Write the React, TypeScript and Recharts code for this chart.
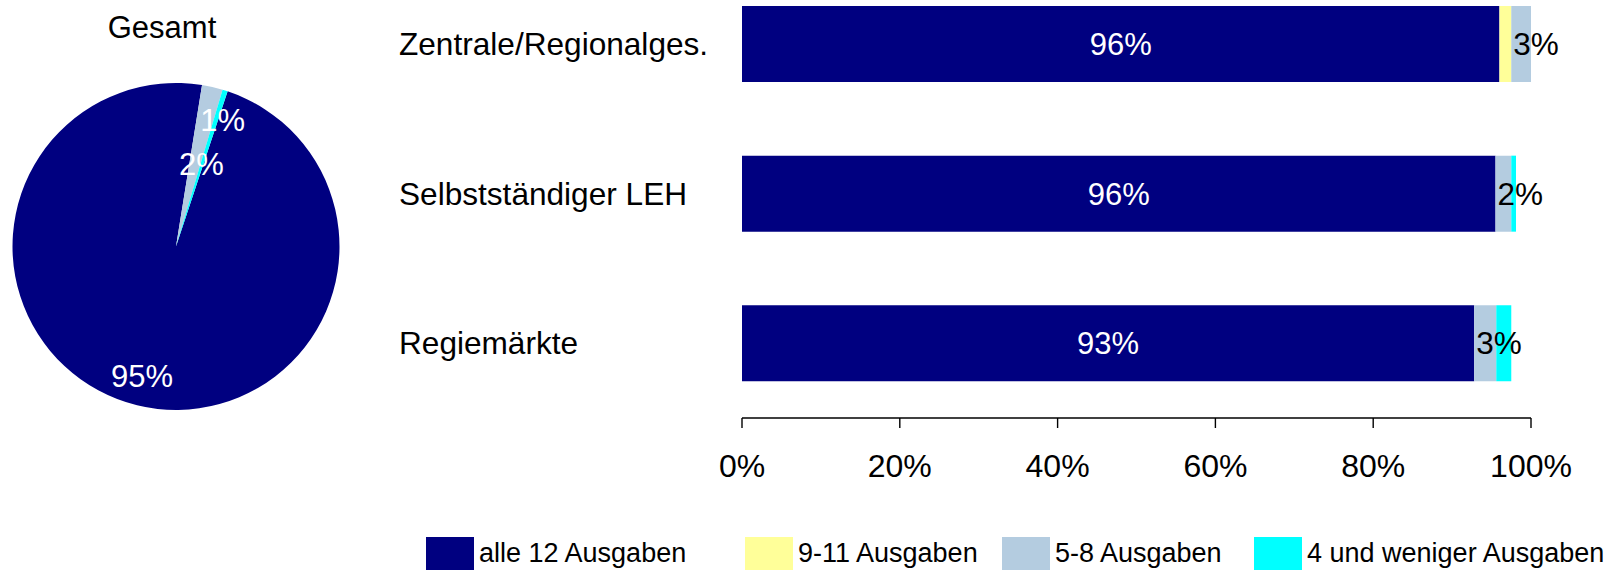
import React from 'react';
import { BarChart, Bar, XAxis, YAxis, LabelList, PieChart, Pie, Cell } from 'recharts';

const FONT = '"Liberation Sans", Arial, Helvetica, sans-serif';

const categories = ['Zentrale/Regionalges.', 'Selbstständiger LEH', 'Regiemärkte'];
const seriesNames = ['alle 12 Ausgaben', '9-11 Ausgaben', '5-8 Ausgaben', '4 und weniger Ausgaben'];
const seriesKeys = ['alle12', 'neunElf', 'fuenfAcht', 'vierWeniger'];
const seriesColors = ['#000080', '#ffff99', '#b4cce0', '#00ffff'];

// percent per category, same order as categories
const alle12 = [96.0, 95.5, 92.8];
const neunElf = [1.5, 0, 0];
const fuenfAcht = [2.5, 2.0, 2.8];
const vierWeniger = [0, 0.6, 1.9];

// pie "Gesamt", same order as seriesNames
const gesamt = [95, 0, 2, 0.5];

const xTicks = [0, 20, 40, 60, 80, 100];

// layout only
const legendX = [426, 745, 1002, 1254];
const pieLabelRadius = [134, 0, 86, 135];
const pieLabelShift = [0.9, 0, 4.4, 2.7];

const pct = (v: number) => `${Math.round(v)}%`;

const CategoryTick = (props: any) => {
  const { y, payload } = props;
  return (
    <text x={399} y={y} dy={11} fontSize={31.6} fill="#000" fontFamily={FONT} textAnchor="start">
      {payload.value}
    </text>
  );
};

const renderSmallLabel = (props: any) => {
  const { x, y, height, value } = props;
  if (!value) return null;
  return (
    <text x={Number(x) + 2} y={Number(y) + Number(height) / 2} dy={11} fontSize={31.5} fill="#000" fontFamily={FONT} textAnchor="start">
      {pct(value)}
    </text>
  );
};

const renderPieLabel = (props: any) => {
  const { cx, cy, midAngle, index } = props;
  const v = gesamt[index];
  if (!v) return null;
  const a = ((midAngle - pieLabelShift[index]) * Math.PI) / 180;
  const r = pieLabelRadius[index];
  const x = cx + r * Math.cos(-a);
  const y = cy + r * Math.sin(-a);
  return (
    <text x={x} y={y} dy={11} fontSize={31} fill="#fff" fontFamily={FONT} textAnchor="middle">
      {pct(v)}
    </text>
  );
};

export default function App() {
  const series = [alle12, neunElf, fuenfAcht, vierWeniger];
  const barData = categories.map((name, i) => {
    const row: any = { name };
    seriesKeys.forEach((k, s) => (row[k] = series[s][i]));
    return row;
  });
  const pieData = seriesNames.map((name, i) => ({ name, value: gesamt[i] }));

  return (
    <div style={{ position: 'absolute', left: 0, top: 0, width: 1617, height: 570, overflow: 'hidden', background: '#fff', fontFamily: FONT }}>
      <div style={{ position: 'absolute', left: 0, top: -31 }}>
        <BarChart width={1617} height={525} data={barData} layout="vertical" margin={{ top: 0, right: 86, bottom: 0, left: 0 }}>
          <XAxis
            type="number"
            domain={[0, 100]}
            ticks={xTicks}
            tickFormatter={(v: number) => `${v}%`}
            height={76}
            tickSize={10}
            tickMargin={26}
            axisLine={{ stroke: '#000', strokeWidth: 1.4 }}
            tickLine={{ stroke: '#000', strokeWidth: 1.4 }}
            tick={{ fill: '#000', fontSize: 32, fontFamily: FONT }}
          />
          <YAxis type="category" dataKey="name" width={742} axisLine={false} tickLine={false} tick={<CategoryTick />} />
          {seriesKeys.map((k, s) => (
            <Bar key={k} dataKey={k} stackId="a" fill={seriesColors[s]} barSize={76} isAnimationActive={false}>
              {s === 0 && (
                <LabelList dataKey={k} position="center" fill="#fff" fontSize={31} fontFamily={FONT} formatter={(v: any) => pct(Number(v))} />
              )}
              {s === 2 && <LabelList dataKey={k} content={renderSmallLabel} />}
            </Bar>
          ))}
        </BarChart>
      </div>
      <div style={{ position: 'absolute', left: 0, top: 0 }}>
        <PieChart width={360} height={420} margin={{ top: 0, right: 0, bottom: 0, left: 0 }}>
          <Pie
            data={pieData}
            dataKey="value"
            cx={176}
            cy={246.5}
            outerRadius={163.5}
            startAngle={71.6}
            endAngle={-288.4}
            stroke="none"
            labelLine={false}
            label={renderPieLabel}
            isAnimationActive={false}
          >
            {pieData.map((d, i) => (
              <Cell key={d.name} fill={seriesColors[i]} />
            ))}
          </Pie>
        </PieChart>
      </div>
      <svg width={1617} height={570} style={{ position: 'absolute', left: 0, top: 0, pointerEvents: 'none' }}>
        <text x={162} y={38} fontSize={31} textAnchor="middle" fill="#000" fontFamily={FONT}>
          Gesamt
        </text>
        {seriesNames.map((name, i) => (
          <g key={name}>
            <rect x={legendX[i]} y={537} width={48} height={34} fill={seriesColors[i]} />
            <text x={legendX[i] + 53} y={562} fontSize={27} fill="#000" fontFamily={FONT}>
              {name}
            </text>
          </g>
        ))}
      </svg>
    </div>
  );
}
